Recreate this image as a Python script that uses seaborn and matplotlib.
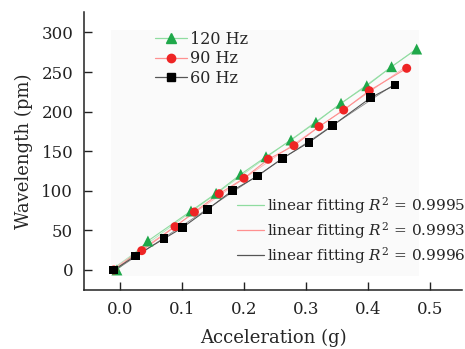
import numpy as np
import pandas as pd
import matplotlib
matplotlib.use("Agg")
import matplotlib.pyplot as plt
from matplotlib.lines import Line2D
import seaborn as sns

# ---- data ----
x_120 = [-0.005, 0.045, 0.1145, 0.155, 0.1947, 0.2355, 0.2758, 0.316, 0.3565, 0.398, 0.438, 0.4785]
y_120 = [0, 36.6, 74.5, 96.8, 120.8, 143, 164.1, 186.5, 210.5, 232.7, 256.7, 279]
x_90 = [-0.01, 0.035, 0.0887, 0.12, 0.160, 0.2, 0.239, 0.2806, 0.321, 0.3608, 0.402, 0.4624]
y_90 = [0, 24.4, 54.7, 73.2, 96.3, 115.8, 139.8, 157, 181, 202, 226.4, 254.7]
x_60 = [-0.01, 0.025, 0.071, 0.1005, 0.1414, 0.181, 0.222, 0.2618, 0.3048, 0.3426, 0.4044, 0.4435]
y_60 = [0, 17.7, 39.5, 53.4, 76.6, 100.1, 118.7, 141, 161.2, 182.2, 217.6, 233.6]
series_labels = ["120 Hz", "90 Hz", "60 Hz"]
fit_labels = [r"linear fitting $R^2$ = 0.9995",
              r"linear fitting $R^2$ = 0.9993",
              r"linear fitting $R^2$ = 0.9996"]
x_ticks = [0.0, 0.1, 0.2, 0.3, 0.4, 0.5]
x_ticklabels = ["0.0", "0.1", "0.2", "0.3", "0.4", "0.5"]
y_ticks = [0, 50, 100, 150, 200, 250, 300]

sns.set_theme(style="ticks")
plt.rcParams["font.family"] = ["DejaVu Serif"]
plt.rcParams["mathtext.fontset"] = "dejavuserif"

marker_colors = ["#1fa84a", "#ee2424", "#000000"]
line_colors = ["#8fdca0", "#ff9090", "#555555"]
markers = ["^", "o", "s"]
msizes = [62, 42, 40]

df = pd.concat([
    pd.DataFrame({"x": x_120, "y": y_120, "series": series_labels[0]}),
    pd.DataFrame({"x": x_90, "y": y_90, "series": series_labels[1]}),
    pd.DataFrame({"x": x_60, "y": y_60, "series": series_labels[2]}),
], ignore_index=True)

fig = plt.figure(figsize=(4.65, 3.49), dpi=100)
ax = fig.add_axes([84.3 / 465, 1 - 290 / 349, (462 - 84.3) / 465, (290 - 12) / 349])

# faint plot-area background
ax.add_patch(plt.Rectangle((0.07, 0.05), 0.815, 0.885, transform=ax.transAxes,
                           color="#fafafa", zorder=0, lw=0))

for i, lab in enumerate(series_labels):
    sub = df[df["series"] == lab]
    sns.regplot(data=sub, x="x", y="y", scatter=False, ci=None, ax=ax,
                color=line_colors[i], line_kws={"lw": 0.6, "alpha": 0.7})
    sns.lineplot(data=sub, x="x", y="y", ax=ax, color=line_colors[i], lw=0.8,
                 sort=False, zorder=2)
    sns.scatterplot(data=sub, x="x", y="y", ax=ax, color=marker_colors[i],
                    marker=markers[i], s=msizes[i], edgecolor="none", zorder=3)

ax.set_xlim(-0.0576, 0.5516)
ax.set_ylim(-25.3, 325.8)
ax.set_xticks(x_ticks)
ax.set_xticklabels(x_ticklabels)
ax.set_yticks(y_ticks)
ax.set_xlabel("Acceleration (g)", fontsize=13, labelpad=8)
ax.set_ylabel("Wavelength (pm)", fontsize=13, labelpad=6)
ax.tick_params(direction="in", length=6, width=1, labelsize=12, colors="#222222",
               pad=8)
for s in ["top", "right"]:
    ax.spines[s].set_visible(False)
for s in ["left", "bottom"]:
    ax.spines[s].set_linewidth(1.1)
    ax.spines[s].set_color("#222222")

h1 = [Line2D([], [], color=line_colors[i], lw=0.9, marker=markers[i],
             markersize=7 if i == 0 else 6, markerfacecolor=marker_colors[i],
             markeredgecolor=marker_colors[i]) for i in range(3)]
leg1 = fig.legend(h1, series_labels, loc="upper left",
                  bbox_to_anchor=(155 / 465, 1 - 31 / 349), frameon=False,
                  fontsize=11.5, handlelength=2.0, handletextpad=0.2,
                  labelspacing=0.15, borderpad=0, borderaxespad=0)
h2 = [Line2D([], [], color=line_colors[i], lw=0.9) for i in range(3)]
leg2 = fig.legend(h2, fit_labels, loc="upper left",
                  bbox_to_anchor=(237 / 465, 1 - 195 / 349), frameon=False,
                  fontsize=11, handlelength=1.75, handletextpad=0.2,
                  labelspacing=0.27, borderpad=0, borderaxespad=0)

fig.savefig("out.png", dpi=100)
